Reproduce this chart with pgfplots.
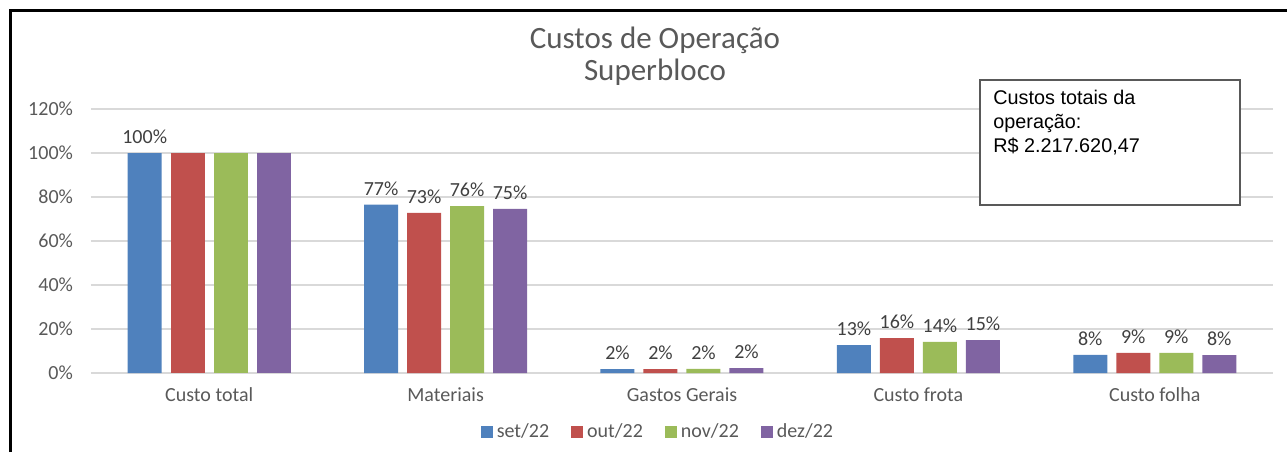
\documentclass[border=0pt]{standalone}
\usepackage{pgfplots}
\pgfplotsset{compat=1.18}
\usepackage{fontspec}
\setmainfont{Carlito}
\newfontfamily\arialfont{Liberation Sans}
\definecolor{cblue}{HTML}{4F81BD}
\definecolor{cred}{HTML}{C0504D}
\definecolor{cgreen}{HTML}{9BBB59}
\definecolor{cpurple}{HTML}{8064A2}
\definecolor{tgray}{HTML}{595959}
\definecolor{lgray}{HTML}{404040}
\definecolor{ggray}{HTML}{D9D9D9}
\begin{document}
\begin{tikzpicture}[x=0.5pt,y=0.5pt]
\path[use as bounding box] (0,0) rectangle (1287,452);
\draw[line width=1.5pt] (10,0) -- (10,442) -- (1287,442);
\node[text=tgray,font=\fontsize{15.5}{18}\selectfont] at (655,412) {Custos de Operação};
\node[text=tgray,font=\fontsize{15.5}{18}\selectfont] at (655,380) {Superbloco};
\begin{axis}[
  at={(45.5pt,39.5pt)}, anchor=south west,
  scale only axis, width=591pt, height=132pt,
  xmin=-0.5, xmax=4.5, ymin=0, ymax=120,
  axis line style={draw=none},
  ymajorgrids, grid style={ggray, line width=0.6pt},
  ytick={0,20,40,60,80,100,120},
  yticklabels={0\%,20\%,40\%,60\%,80\%,100\%,120\%},
  xtick={0,1,2,3,4},
  xticklabels={Custo total,Materiais,Gastos Gerais,Custo frota,Custo folha},
  major tick length=0pt,
  tick label style={text=tgray, font=\fontsize{10}{12}\selectfont},
  yticklabel style={xshift=-5.5pt},
  xticklabel style={yshift=-4pt},
  ybar, bar width=17pt,
  /pgf/number format/assume math mode=true,
  nodes near coords={\pgfmathprintnumber[fixed,precision=0,assume math mode=true]{\pgfplotspointmeta}\%},
  every node near coord/.append style={text=lgray, font=\fontsize{10}{12}\selectfont, yshift=1pt},
  legend columns=4,
  legend style={at={(0.4805,-0.2235)}, anchor=center, draw=none, fill=none,
    font=\fontsize{10}{12}\selectfont, text=tgray,
    /tikz/every even column/.append style={column sep=9pt}},
  legend image code/.code={\fill[#1] (0pt,-3pt) rectangle (6pt,3pt);},
]
\addplot[fill=cblue, draw=none, bar shift=-32.25pt] coordinates {(0,100) (1,76.5) (2,1.8) (3,12.7) (4,8.2)};
\addlegendentry{set/22}
\addplot[fill=cred, draw=none, bar shift=-10.75pt] coordinates {(1,72.8) (2,1.8) (3,15.9) (4,9.1)};
\addlegendentry{out/22}
\addplot[fill=cgreen, draw=none, bar shift=10.75pt] coordinates {(1,75.9) (2,1.9) (3,14.1) (4,9.1)};
\addlegendentry{nov/22}
\addplot[fill=cpurple, draw=none, bar shift=32.25pt] coordinates {(1,74.6) (2,2.2) (3,15.0) (4,8.1)};
\addlegendentry{dez/22}
\addplot[fill=cred, draw=none, bar shift=-10.75pt, nodes near coords={}, forget plot] coordinates {(0,100)};
\addplot[fill=cgreen, draw=none, bar shift=10.75pt, nodes near coords={}, forget plot] coordinates {(0,100)};
\addplot[fill=cpurple, draw=none, bar shift=32.25pt, nodes near coords={}, forget plot] coordinates {(0,100)};
\end{axis}
\node[draw=tgray, line width=1pt, fill=white, minimum width=130pt, minimum height=62.5pt] at (1110,309.5) {};
\node[anchor=north west, align=left, text=black, font=\arialfont\fontsize{9.9}{12}\selectfont, inner sep=0pt] at (993,362) {Custos totais da\\operação:\\R\$ 2.217.620,47};
\end{tikzpicture}
\end{document}
